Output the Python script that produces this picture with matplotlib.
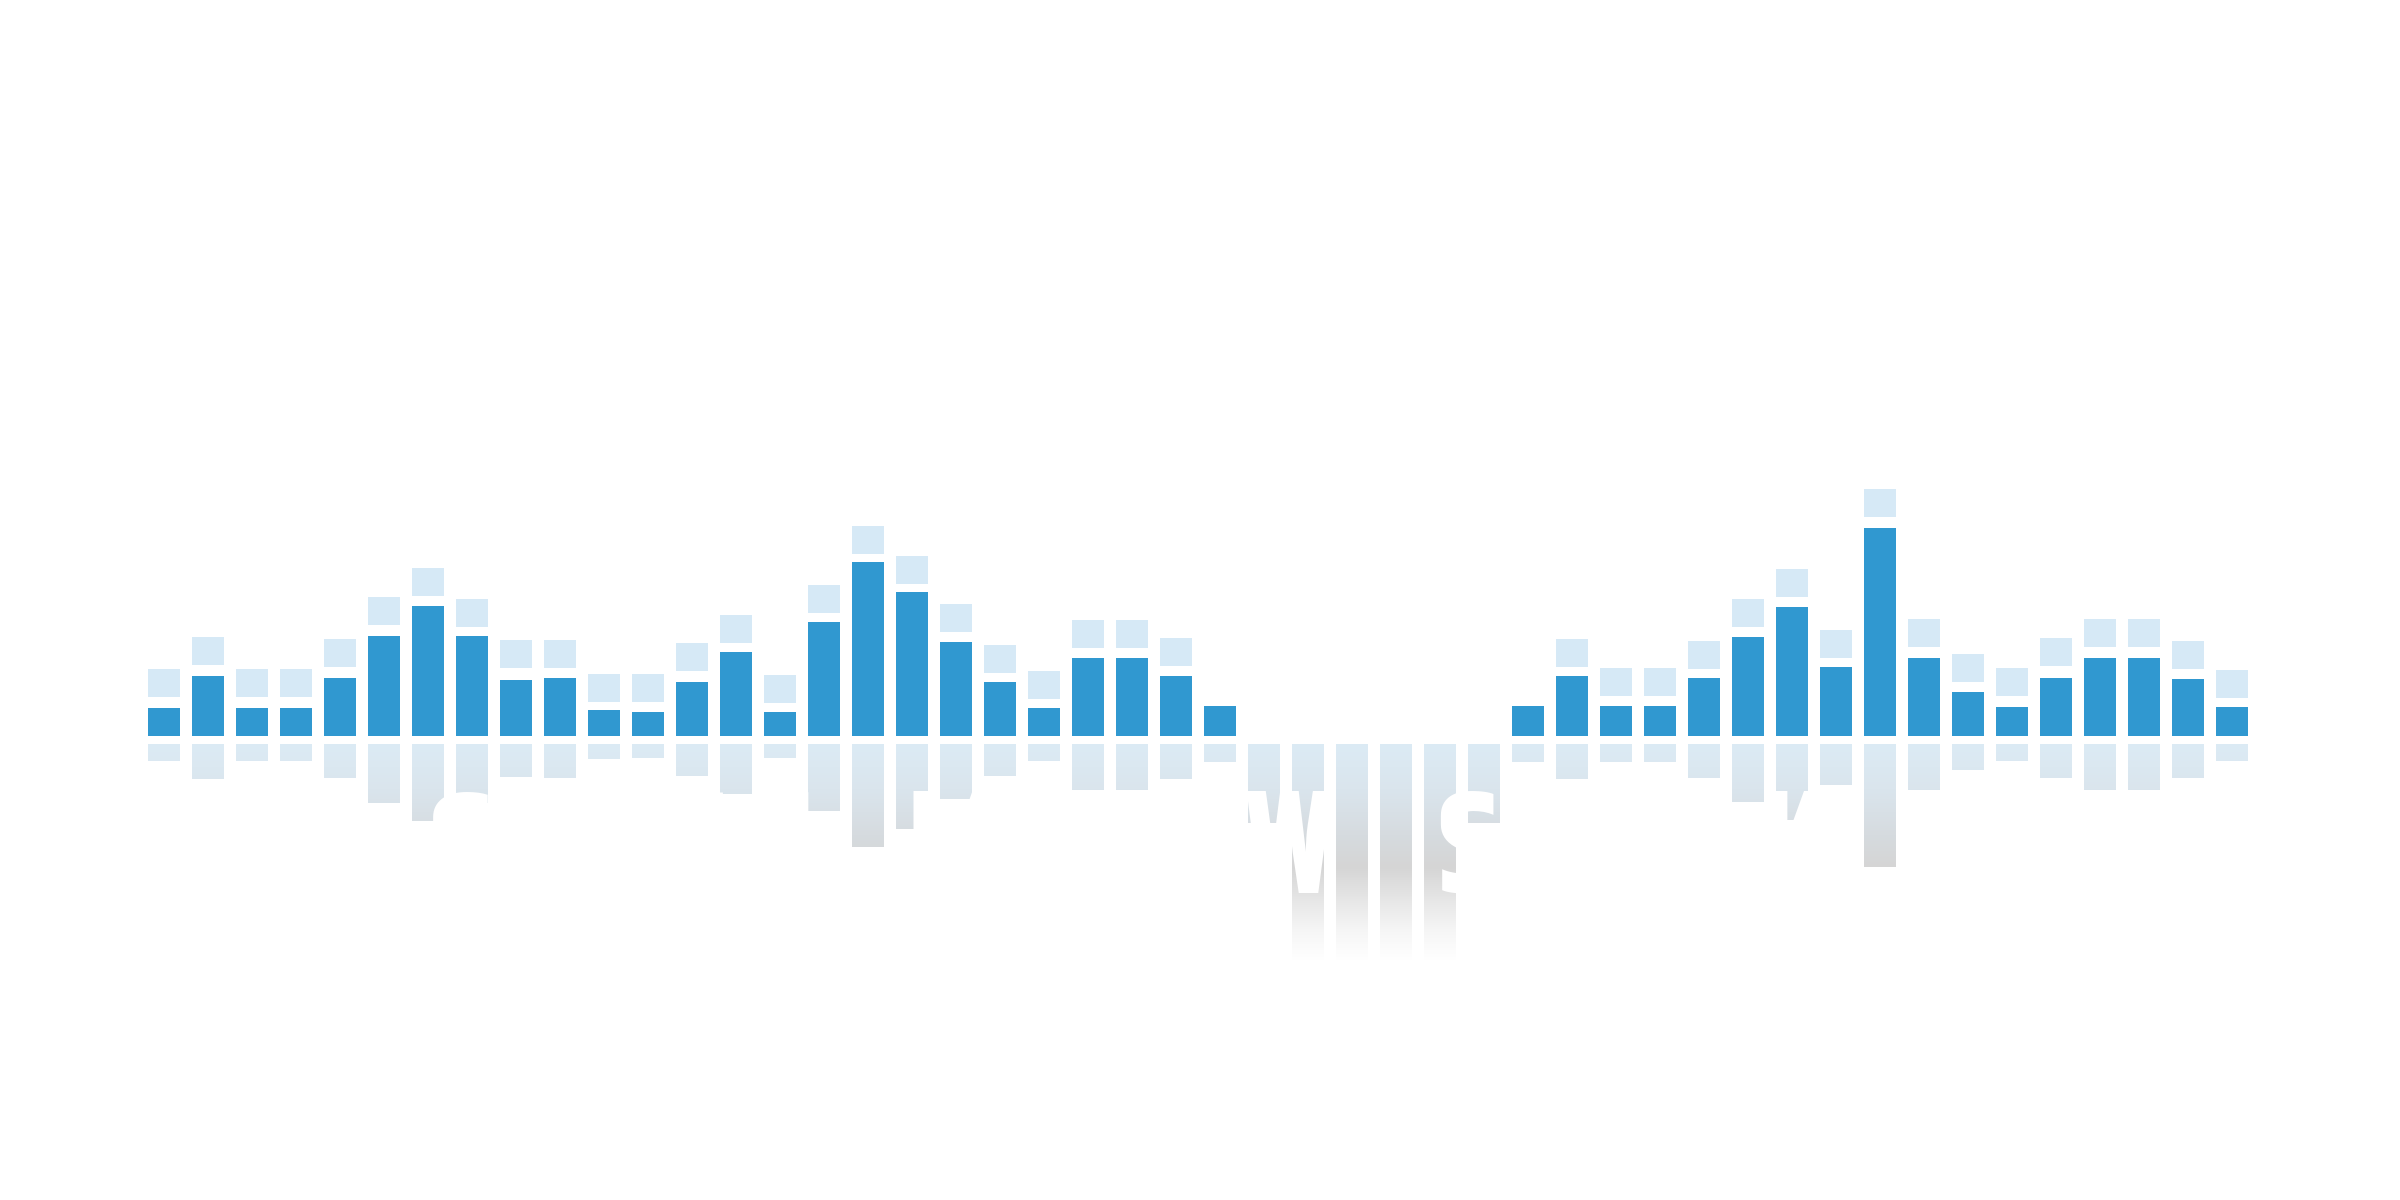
import matplotlib
matplotlib.use("Agg")
import matplotlib.pyplot as plt
import numpy as np
from matplotlib import font_manager as fm
from matplotlib.colors import LinearSegmentedColormap
from matplotlib.path import Path
from matplotlib.patches import PathPatch
from matplotlib.textpath import TextPath

# ---------------- data ----------------
levels = [28, 60, 28, 28, 58, 100, 130, 100, 56, 58, 26, 24, 54, 84, 24, 114, 174, 144, 94, 54,
          28, 78, 78, 60, 30,
          134, 366, 366, 366, 366, 134,
          30, 60, 30, 30, 58, 99, 129, 69, 208, 78, 44, 29, 58, 78, 78, 57, 29]
peaks = [39, 71, 39, 39, 69, 111, 140, 109, 68, 68, 34, 34, 65, 93, 33, 123, 182, 152, 104, 63,
         37, 88, 88, 70, None,
         None, None, None, None, None, None,
         None, 69, 40, 40, 67, 109, 139, 78, 219, 89, 54, 40, 70, 89, 89, 67, 38]
muted = [25, 26, 27, 28, 29, 30]          # columns whose upper bar is not drawn
title_words = ["GENTLE", "MELLOW", "SOUL", "K"]
word_starts = [433, 913, 1440, 1765]      # pixel x of each word's left edge

# ---------------- style ----------------
BLUE = "#3098d0"
CAP = "#d6e9f6"
ECHO_RATIO = 0.59
GAP = 8
CAP_H = 28
W = 32 / 44
DPI = 200
TITLE_CAP_PX = 101
TITLE_TOP_PX = 792

fig = plt.figure(figsize=(12, 6), dpi=DPI, facecolor="white")
ax = fig.add_axes([0, 0, 1, 1])
ax.set_xlim(-164 / 44, (2400 - 164) / 44)
ax.set_ylim(-464, 736)
ax.axis("off")

x = np.arange(len(levels))
vis = [i for i in x if i not in muted]
ax.bar([x[i] for i in vis], [levels[i] for i in vis], width=W, color=BLUE, zorder=3)
cap_idx = [i for i in x if peaks[i] is not None]
ax.bar([x[i] for i in cap_idx], [CAP_H] * len(cap_idx), bottom=[peaks[i] for i in cap_idx],
       width=W, color=CAP, zorder=3)

# reflection, filled with a vertical gradient
depth = [ECHO_RATIO * v for v in levels]
refl = ax.bar(x, [-d for d in depth], bottom=-GAP, width=W, color="none")
paths = []
for r in refl:
    paths.append(r.get_path().transformed(r.get_patch_transform()))
    r.set_visible(False)
clip = PathPatch(Path.make_compound_path(*paths), transform=ax.transData,
                 facecolor="none", edgecolor="none")
ax.add_patch(clip)
stops = [(0.0, "#dcebf5"), (0.21, "#dae5ed"), (0.42, "#d6dbdf"), (0.57, "#d5d5d5"),
         (0.72, "#e6e6e6"), (0.86, "#f5f5f5"), (1.0, "#ffffff")]
cmap = LinearSegmentedColormap.from_list("echo", stops)
grad = np.linspace(0, 1, 256).reshape(-1, 1)
im = ax.imshow(grad, cmap=cmap, aspect="auto", origin="upper",
               extent=(-1, len(levels), -GAP - 216, -GAP), zorder=2, interpolation="bilinear")
im.set_clip_path(clip)

# ---------------- white title over the reflection ----------------
avail = {f.name for f in fm.fontManager.ttflist}
fam = next((p for p in ["Khand", "Oswald", "Anton", "DejaVu Sans"] if p in avail), "DejaVu Sans")
fp = fm.FontProperties(family=fam, weight="bold")
h100 = TextPath((0, 0), "H", size=100, prop=fp).get_extents().height
fs = 100 * (TITLE_CAP_PX * 72 / DPI) / h100
base = TITLE_TOP_PX + TITLE_CAP_PX
for wd, xs in zip(title_words, word_starts):
    e = TextPath((0, 0), wd, size=fs, prop=fp).get_extents()
    fig.text((xs - e.x0 * DPI / 72) / 2400, 1 - base / 1200, wd, color="white",
             fontproperties=fp, fontsize=fs, ha="left", va="baseline", zorder=5)

fig.savefig("out.png", dpi=DPI, facecolor="white")
